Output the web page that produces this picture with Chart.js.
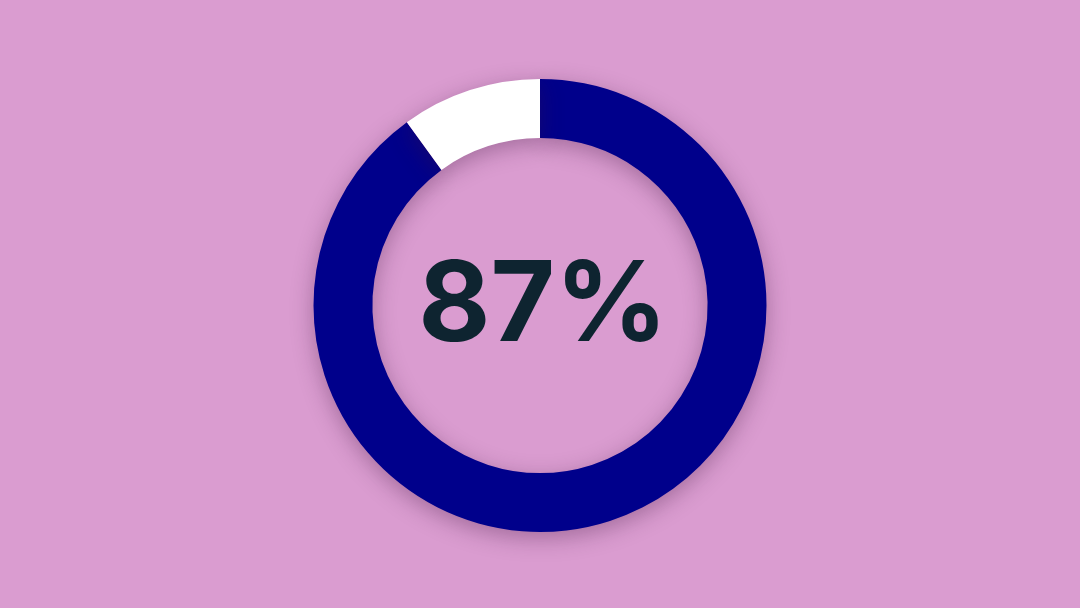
<!DOCTYPE html>
<html>
<head>
<meta charset="utf-8">
<script src="https://cdn.jsdelivr.net/npm/chart.js@4"></script>
<style>
  html, body { margin:0; padding:0; background:#DA9CD0; }
  #wrap { position:relative; width:1080px; height:608px; }
</style>
</head>
<body>
<div id="wrap"><canvas id="c" width="1080" height="608"></canvas></div>
<script>
const categories = ["Yes", "Other"];
const values = [90, 10];
const centerLabel = "87%";

const shadowPlugin = {
  id: 'ringShadow',
  beforeDatasetsDraw(chart) {
    const ctx = chart.ctx;
    ctx.save();
    ctx.shadowColor = 'rgba(60,20,60,0.35)';
    ctx.shadowBlur = 22;
    ctx.shadowOffsetX = 0;
    ctx.shadowOffsetY = 6;
  },
  afterDatasetsDraw(chart) {
    chart.ctx.restore();
  }
};

const centerText = {
  id: 'centerText',
  afterDraw(chart) {
    const ctx = chart.ctx;
    const meta = chart.getDatasetMeta(0);
    const arc = meta.data[0];
    ctx.save();
    ctx.fillStyle = '#0E2430';
    ctx.font = 'bold 111px Inter';
    ctx.textAlign = 'center';
    ctx.textBaseline = 'middle';
    ctx.fillText(centerLabel, arc.x + 3, arc.y + 2);
    ctx.restore();
  }
};

new Chart(document.getElementById('c'), {
  type: 'doughnut',
  data: {
    labels: categories,
    datasets: [{
      data: values,
      backgroundColor: ['#00008B', '#FFFFFF'],
      borderWidth: 0
    }]
  },
  options: {
    responsive: false,
    animation: false,
    cutout: '74%',
    layout: { padding: { top: 79, bottom: 76 } },
    plugins: { legend: { display: false }, tooltip: { enabled: false } }
  },
  plugins: [shadowPlugin, centerText]
});
</script>
</body>
</html>
